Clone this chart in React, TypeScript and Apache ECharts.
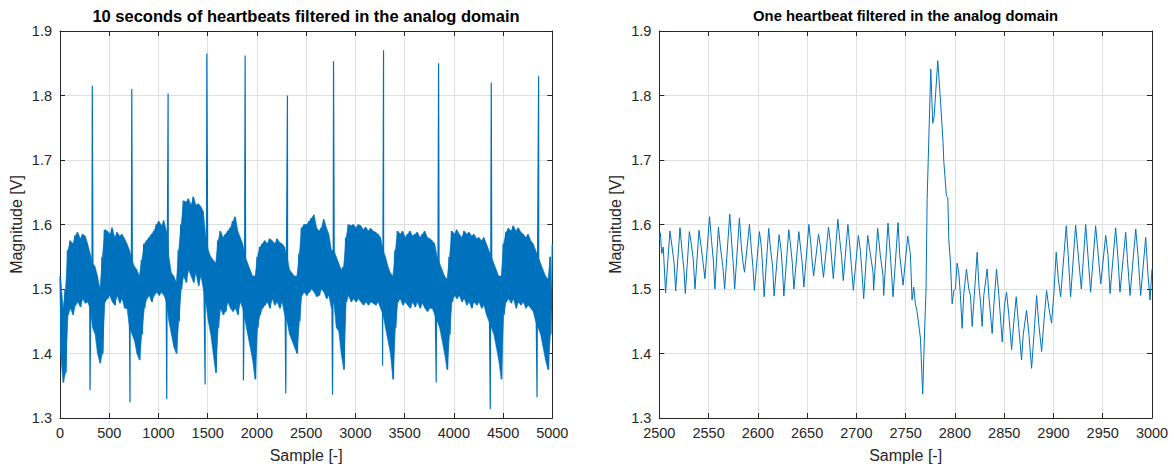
import React, { useEffect, useRef } from "react";
import * as echarts from "echarts";

// ---------- Left panel: 10 s of heartbeats (envelope read every 25 samples) ----------
const bandHigh = [
  1.52, 1.47, 1.50, 1.56, 1.575, 1.57, 1.583, 1.588, 1.578, 1.585,
  1.582, 1.57, 1.555, 1.54, 1.535, 1.52, 1.50, 1.55, 1.592, 1.59,
  1.585, 1.595, 1.58, 1.588, 1.582, 1.585, 1.578, 1.57, 1.56, 1.545,
  1.535, 1.53, 1.52, 1.545, 1.57, 1.575, 1.58, 1.585, 1.59, 1.60,
  1.605, 1.598, 1.606, 1.59, 1.55, 1.525, 1.52, 1.51, 1.56, 1.60,
  1.637, 1.635, 1.64, 1.63, 1.643, 1.63, 1.632, 1.628, 1.62, 1.58,
  1.56, 1.55, 1.545, 1.54, 1.575, 1.59, 1.58, 1.585, 1.59, 1.595,
  1.605, 1.612, 1.59, 1.58, 1.57, 1.55, 1.54, 1.53, 1.52, 1.52,
  1.55, 1.565, 1.57, 1.575, 1.57, 1.578, 1.575, 1.57, 1.578, 1.572,
  1.57, 1.565, 1.55, 1.53, 1.525, 1.52, 1.52, 1.555, 1.595, 1.60,
  1.60, 1.605, 1.61, 1.615, 1.595, 1.59, 1.595, 1.608, 1.595, 1.585,
  1.56, 1.56, 1.55, 1.54, 1.53, 1.535, 1.58, 1.60, 1.598, 1.60,
  1.595, 1.60, 1.598, 1.592, 1.596, 1.59, 1.594, 1.59, 1.588, 1.585,
  1.58, 1.56, 1.55, 1.535, 1.525, 1.52, 1.56, 1.59, 1.585, 1.59,
  1.58, 1.585, 1.59, 1.582, 1.585, 1.588, 1.58, 1.585, 1.59, 1.58,
  1.578, 1.575, 1.57, 1.55, 1.54, 1.53, 1.52, 1.515, 1.55, 1.59,
  1.585, 1.592, 1.585, 1.58, 1.59, 1.585, 1.588, 1.582, 1.585, 1.578,
  1.58, 1.575, 1.58, 1.57, 1.56, 1.55, 1.54, 1.53, 1.52, 1.52,
  1.57, 1.588, 1.594, 1.59, 1.598, 1.59, 1.595, 1.588, 1.585, 1.58,
  1.585, 1.575, 1.57, 1.56, 1.55, 1.54, 1.53, 1.52, 1.515, 1.55,
];
const bandLow = [
  1.40, 1.355, 1.37, 1.46, 1.47, 1.46, 1.475, 1.48, 1.472, 1.485,
  1.478, 1.48, 1.47, 1.44, 1.43, 1.40, 1.385, 1.40, 1.48, 1.485,
  1.49, 1.48, 1.475, 1.49, 1.478, 1.485, 1.47, 1.47, 1.44, 1.43,
  1.42, 1.40, 1.39, 1.43, 1.47, 1.485, 1.49, 1.48, 1.49, 1.495,
  1.49, 1.495, 1.49, 1.48, 1.45, 1.43, 1.41, 1.40, 1.45, 1.50,
  1.52, 1.51, 1.53, 1.52, 1.51, 1.525, 1.505, 1.52, 1.50, 1.48,
  1.45, 1.43, 1.40, 1.37, 1.44, 1.47, 1.46, 1.465, 1.48, 1.47,
  1.465, 1.47, 1.46, 1.48, 1.47, 1.45, 1.43, 1.41, 1.39, 1.36,
  1.44, 1.46, 1.47, 1.475, 1.48, 1.47, 1.485, 1.475, 1.48, 1.47,
  1.48, 1.46, 1.45, 1.43, 1.42, 1.41, 1.40, 1.45, 1.49, 1.495,
  1.49, 1.495, 1.50, 1.495, 1.488, 1.49, 1.50, 1.495, 1.485, 1.49,
  1.47, 1.48, 1.44, 1.435, 1.40, 1.375, 1.48, 1.49, 1.48, 1.485,
  1.48, 1.485, 1.48, 1.475, 1.48, 1.475, 1.48, 1.478, 1.475, 1.48,
  1.47, 1.46, 1.44, 1.42, 1.40, 1.36, 1.44, 1.48, 1.485, 1.475,
  1.48, 1.475, 1.47, 1.48, 1.472, 1.48, 1.47, 1.478, 1.47, 1.465,
  1.47, 1.47, 1.46, 1.45, 1.44, 1.42, 1.40, 1.375, 1.43, 1.48,
  1.49, 1.485, 1.49, 1.48, 1.485, 1.475, 1.48, 1.47, 1.48, 1.475,
  1.48, 1.47, 1.475, 1.46, 1.45, 1.44, 1.43, 1.41, 1.39, 1.36,
  1.46, 1.48, 1.485, 1.478, 1.485, 1.47, 1.48, 1.475, 1.48, 1.47,
  1.475, 1.47, 1.465, 1.45, 1.44, 1.43, 1.41, 1.39, 1.375, 1.43,
];
const bandStep = 25;
const lastSample = 5000;
const lastValue = 1.57;
const qDipSample = [305, 711, 1084, 1474, 1863, 2293, 2768, 3276, 3821, 4370, 4845];
const qDipValue = [1.343, 1.324, 1.329, 1.352, 1.358, 1.338, 1.336, 1.381, 1.355, 1.314, 1.332];
const rPeakSample = [328, 729, 1098, 1491, 1880, 2310, 2778, 3286, 3845, 4380, 4861];
const rPeakValue = [1.815, 1.81, 1.803, 1.865, 1.862, 1.80, 1.853, 1.87, 1.85, 1.82, 1.83];

// ---------- Right panel: one heartbeat (samples 2500-3000) ----------
const beatSample = [
  2500, 2501, 2502.5, 2504, 2506.4,
  2510.8, 2513, 2515, 2516.6,
  2521, 2523, 2525, 2526.4,
  2530.5, 2532.5, 2534.5, 2536.2,
  2540.3, 2542.5, 2544.5, 2546.3,
  2551, 2553, 2554.8, 2556.4,
  2560, 2562, 2564.5, 2566.3,
  2571.5, 2573.5, 2575, 2576.5,
  2581.3, 2583.3, 2585, 2586.5,
  2591.5, 2593.5, 2595, 2596.5,
  2601.6, 2603.6, 2605, 2606.4,
  2611, 2613, 2615, 2616.5,
  2621.6, 2623.6, 2625, 2626.4,
  2631.4, 2633.4, 2635, 2636.6,
  2641.6, 2643.6, 2645, 2646.7,
  2651.8, 2653.8, 2655, 2656.6,
  2661.6, 2663.6, 2665, 2666.6,
  2671.7, 2673.7, 2675, 2676.6,
  2681.2, 2683.2, 2685, 2686.7,
  2691.4, 2693.4, 2695, 2696.9,
  2702, 2704, 2705.5, 2707.4,
  2711.5, 2714.2, 2716.9, 2717.5,
  2721.6, 2724.3, 2727, 2727.7,
  2732.1, 2734.5, 2737.2,
  2742.3, 2744, 2747.4,
  2752.1, 2754.8, 2756.5, 2758.2, 2759.9, 2761.6, 2765, 2767.3, 2769, 2770.7,
  2771.8, 2775.5, 2777.5, 2778.9, 2782.6, 2785.3, 2788, 2788.7, 2791.4, 2792.8,
  2793.8, 2795.5, 2797.2, 2798.9, 2800.5, 2802.2, 2803.9, 2805.6, 2807.3, 2809,
  2811.7, 2814.1, 2815.8, 2817.5, 2819.2, 2822.6, 2824.3, 2826, 2827.6, 2829.3,
  2832.7, 2834.4, 2837.8, 2839.5, 2842.2, 2844.6, 2848, 2850.3, 2852.4, 2854.7,
  2857.5, 2859.8, 2862.2, 2864.9, 2867.6, 2869.3, 2872.7, 2875.1, 2877.8, 2880.2,
  2882.9, 2885.2, 2888, 2890.3, 2893, 2895.4, 2898.1, 2900.5, 2902.8, 2904.9,
  2907.3, 2910.6, 2913, 2915, 2917.4, 2922.5, 2924.9, 2928.3, 2932.7, 2935,
  2937.7, 2942.8, 2945.2, 2948, 2953, 2955.4, 2957.4, 2963.1, 2965.5, 2967.5,
  2973.3, 2975, 2977.7, 2983.5, 2985.8, 2988.5, 2993.6, 2996, 2998, 3000,
];
const beatValue = [
  1.575, 1.587, 1.555, 1.565, 1.494,
  1.59, 1.565, 1.54, 1.497,
  1.595, 1.56, 1.53, 1.493,
  1.589, 1.57, 1.545, 1.50,
  1.591, 1.565, 1.54, 1.516,
  1.612, 1.575, 1.545, 1.50,
  1.596, 1.565, 1.535, 1.50,
  1.616, 1.57, 1.54, 1.50,
  1.61, 1.565, 1.54, 1.526,
  1.60, 1.56, 1.535, 1.498,
  1.589, 1.565, 1.53, 1.488,
  1.594, 1.56, 1.535, 1.489,
  1.584, 1.56, 1.53, 1.489,
  1.592, 1.565, 1.54, 1.50,
  1.589, 1.56, 1.54, 1.503,
  1.60, 1.57, 1.545, 1.52,
  1.585, 1.565, 1.54, 1.518,
  1.596, 1.57, 1.545, 1.516,
  1.608, 1.575, 1.55, 1.513,
  1.60, 1.565, 1.535, 1.498,
  1.583, 1.56, 1.53, 1.485,
  1.583, 1.554, 1.526, 1.498,
  1.594, 1.552, 1.521, 1.49,
  1.602, 1.552, 1.488,
  1.603, 1.552, 1.506,
  1.582, 1.554, 1.483, 1.503, 1.477, 1.465, 1.424, 1.337, 1.424, 1.50,
  1.639, 1.841, 1.757, 1.767, 1.854, 1.793, 1.726, 1.698, 1.644, 1.642,
  1.577, 1.54, 1.477, 1.498, 1.50, 1.54, 1.526, 1.49, 1.439, 1.493,
  1.531, 1.50, 1.49, 1.442, 1.48, 1.557, 1.506, 1.48, 1.442, 1.49,
  1.531, 1.49, 1.431, 1.475, 1.531, 1.49, 1.418, 1.475, 1.495, 1.46,
  1.406, 1.449, 1.488, 1.439, 1.39, 1.429, 1.467, 1.429, 1.377, 1.429,
  1.49, 1.444, 1.403, 1.449, 1.498, 1.47, 1.447, 1.495, 1.557, 1.516,
  1.488, 1.552, 1.598, 1.552, 1.488, 1.599, 1.557, 1.50, 1.60, 1.552,
  1.495, 1.598, 1.557, 1.508, 1.583, 1.552, 1.493, 1.595, 1.547, 1.495,
  1.588, 1.547, 1.49, 1.593, 1.552, 1.49, 1.58, 1.521, 1.483, 1.531,
];

const titles = [
  "10 seconds of heartbeats filtered in the analog domain",
  "One heartbeat filtered in the analog domain",
];
const xName = "Sample [-]";
const yName = "Magnitude [V]";

const LINE = "#0072BD";
const AXIS = "#262626";
const GRID = "#dfdfdf";
const FONT = "'Liberation Sans', Arial, Helvetica, sans-serif";

function buildTrace(): [number, number][] {
  const pts: [number, number][] = [];
  for (let k = 0; k < bandHigh.length; k++) {
    pts.push([k * bandStep, bandHigh[k]]);
    pts.push([k * bandStep + 12, bandLow[k]]);
  }
  for (let i = 0; i < qDipSample.length; i++) {
    pts.push([qDipSample[i], qDipValue[i]]);
    pts.push([rPeakSample[i], rPeakValue[i]]);
  }
  pts.push([lastSample, lastValue]);
  pts.sort((a, b) => a[0] - b[0]);
  return pts;
}

export default function App() {
  const ref = useRef<HTMLDivElement>(null);
  useEffect(() => {
    if (!ref.current) return;
    const chart = echarts.init(ref.current, undefined, { renderer: "svg" });
    const grids = [
      { left: 60, top: 31, width: 492.3, height: 389.3 },
      { left: 659.3, top: 31, width: 492.7, height: 389.3 },
    ];
    const tickLabel = { color: AXIS, fontSize: 14.5, fontFamily: FONT };
    const mainX = (gi: number, min: number, max: number, interval: number) => ({
      type: "value",
      gridIndex: gi,
      position: "bottom",
      min,
      max,
      interval,
      axisLine: { show: true, onZero: false, lineStyle: { color: AXIS, width: 1 } },
      axisTick: { show: true, inside: true, length: 5, lineStyle: { color: AXIS } },
      axisLabel: { ...tickLabel, margin: 7, formatter: (v: number) => String(Math.round(v)) },
      splitLine: { show: true, lineStyle: { color: GRID, width: 1 } },
      name: xName,
      nameLocation: "middle",
      nameGap: 29,
      nameTextStyle: { color: AXIS, fontSize: 16, fontFamily: FONT },
    });
    const boxX = (gi: number, min: number, max: number, interval: number) => ({
      type: "value",
      gridIndex: gi,
      position: "top",
      min,
      max,
      interval,
      axisLine: { show: true, onZero: false, lineStyle: { color: AXIS, width: 1 } },
      axisTick: { show: true, inside: true, length: 5, lineStyle: { color: AXIS } },
      axisLabel: { show: false },
      splitLine: { show: false },
    });
    const mainY = (gi: number) => ({
      type: "value",
      gridIndex: gi,
      position: "left",
      min: 1.3,
      max: 1.9,
      interval: 0.1,
      axisLine: { show: true, onZero: false, lineStyle: { color: AXIS, width: 1 } },
      axisTick: { show: true, inside: true, length: 5, lineStyle: { color: AXIS } },
      axisLabel: { ...tickLabel, margin: 8, formatter: (v: number) => v.toFixed(1) },
      splitLine: { show: true, lineStyle: { color: GRID, width: 1 } },
      name: yName,
      nameLocation: "middle",
      nameGap: 36,
      nameTextStyle: { color: AXIS, fontSize: 16, fontFamily: FONT },
    });
    const boxY = (gi: number) => ({
      type: "value",
      gridIndex: gi,
      position: "right",
      min: 1.3,
      max: 1.9,
      interval: 0.1,
      axisLine: { show: true, onZero: false, lineStyle: { color: AXIS, width: 1 } },
      axisTick: { show: true, inside: true, length: 5, lineStyle: { color: AXIS } },
      axisLabel: { show: false },
      splitLine: { show: false },
    });

    const bandX = bandHigh.map((_, k) => k * bandStep + 6);
    const bandData = bandX.map((x, k) => [x, bandLow[k], bandHigh[k]]);
    const beat: [number, number][] = beatSample.map((s, i) => [s, beatValue[i]]);

    const renderBand = (params: any, api: any) => {
      if (params.dataIndex !== 0) return null;
      const upper = bandX.map((x, k) => api.coord([x, bandHigh[k]]));
      const lower = bandX.map((x, k) => api.coord([x, bandLow[k]])).reverse();
      return {
        type: "polygon",
        shape: { points: upper.concat(lower) },
        style: { fill: LINE, stroke: LINE, lineWidth: 0.6 },
        silent: true,
      };
    };

    chart.setOption({
      animation: false,
      backgroundColor: "#ffffff",
      title: [
        {
          text: titles[0],
          left: 306,
          top: 7,
          padding: 0,
          textAlign: "center",
          textStyle: { color: "#000", fontSize: 16.5, fontWeight: "bold", fontFamily: FONT },
        },
        {
          text: titles[1],
          left: 905.6,
          top: 8,
          padding: 0,
          textAlign: "center",
          textStyle: { color: "#000", fontSize: 14.8, fontWeight: "bold", fontFamily: FONT },
        },
      ],
      grid: grids,
      xAxis: [
        mainX(0, 0, 5000, 500),
        boxX(0, 0, 5000, 500),
        mainX(1, 2500, 3000, 50),
        boxX(1, 2500, 3000, 50),
      ],
      yAxis: [mainY(0), boxY(0), mainY(1), boxY(1)],
      series: [
        {
          type: "custom",
          xAxisIndex: 0,
          yAxisIndex: 0,
          data: bandData,
          encode: { x: 0, y: [1, 2] },
          renderItem: renderBand,
          silent: true,
          z: 1,
        },
        {
          type: "line",
          xAxisIndex: 0,
          yAxisIndex: 0,
          data: buildTrace(),
          showSymbol: false,
          symbol: "none",
          lineStyle: { color: LINE, width: 1.2 },
          silent: true,
          z: 2,
        },
        {
          type: "line",
          xAxisIndex: 2,
          yAxisIndex: 2,
          data: beat,
          showSymbol: false,
          symbol: "none",
          lineStyle: { color: LINE, width: 1 },
          silent: true,
        },
      ],
    });
    return () => chart.dispose();
  }, []);
  return (
    <div
      ref={ref}
      style={{ position: "fixed", left: 0, top: 0, width: 1174, height: 468, background: "#fff" }}
    />
  );
}
